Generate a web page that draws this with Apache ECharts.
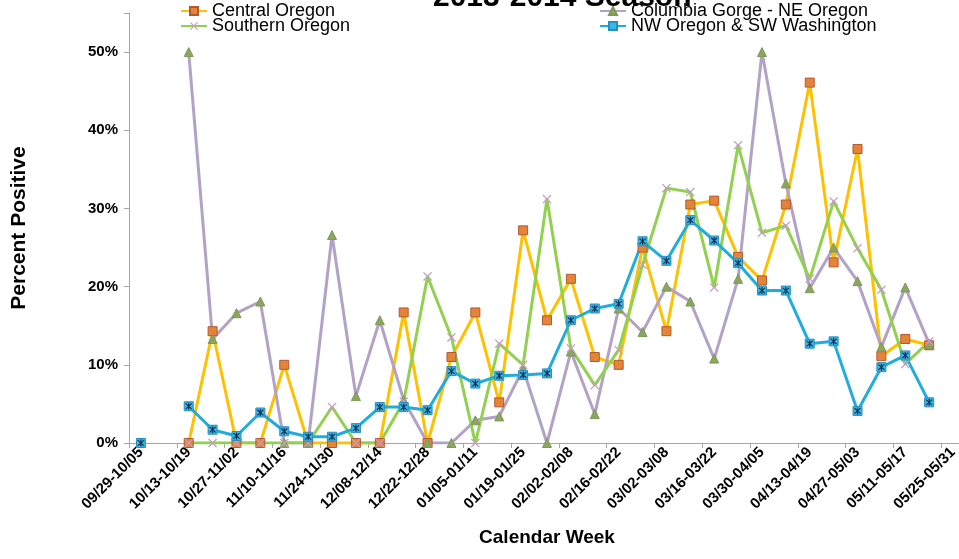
<!DOCTYPE html>
<html>
<head>
<meta charset="utf-8">
<script src="https://cdn.jsdelivr.net/npm/echarts@6/dist/echarts.min.js"></script>
<style>
  html, body { margin: 0; padding: 0; background: #fff; }
  #chart { width: 959px; height: 559px; }
</style>
</head>
<body>
<div id="chart"></div>
<script>
const weeks = [
  '09/29-10/05', '10/06-10/12', '10/13-10/19', '10/20-10/26', '10/27-11/02',
  '11/03-11/09', '11/10-11/16', '11/17-11/23', '11/24-11/30', '12/01-12/07',
  '12/08-12/14', '12/15-12/21', '12/22-12/28', '12/29-01/04', '01/05-01/11',
  '01/12-01/18', '01/19-01/25', '01/26-02/01', '02/02-02/08', '02/09-02/15',
  '02/16-02/22', '02/23-03/01', '03/02-03/08', '03/09-03/15', '03/16-03/22',
  '03/23-03/29', '03/30-04/05', '04/06-04/12', '04/13-04/19', '04/20-04/26',
  '04/27-05/03', '05/04-05/10', '05/11-05/17', '05/18-05/24', '05/25-05/31'
]

// percent positive per week
const centralOregon = [null, null, 0, 14.3, 0, 0, 10.0, 0, 0, 0, 0, 16.7, 0, 11.0, 16.7, 5.2, 27.2, 15.7, 21.0, 11.0,
  10.0, 25.0, 14.3, 30.5, 31.0, 23.8, 20.8, 30.5, 46.1, 23.1, 37.6, 11.1, 13.3, 12.5, null]
const columbiaGorge = [null, null, 50, 13.3, 16.6, 18.1, 0, 0, 26.6, 6.0, 15.7, 5.5, 0, 0, 2.9, 3.4, 9.5, 0, 11.7, 3.7,
  17.2, 14.2, 20.0, 18.1, 10.8, 21.0, 50, 33.2, 19.8, 25.0, 20.7, 12.3, 19.9, 12.7, null]
const southernOregon = [null, null, 0, 0, 0, 0, 0, 0, 4.6, 0, 0, 5.3, 21.3, 13.5, 0, 12.7, 10.0, 31.2, 12.1, 7.4,
  11.9, 22.8, 32.6, 32.1, 19.9, 38.1, 26.9, 27.8, 21.0, 30.9, 24.9, 19.6, 10.1, 13.0, null]
const nwOregon = [0, null, 4.7, 1.7, 0.9, 3.9, 1.5, 0.8, 0.8, 1.9, 4.6, 4.6, 4.2, 9.2, 7.6, 8.6, 8.7, 8.9, 15.7, 17.2,
  17.8, 25.8, 23.3, 28.5, 25.9, 23.0, 19.5, 19.5, 12.7, 13.0, 4.1, 9.7, 11.2, 5.2, null]

const font = '"Liberation Sans", Arial, sans-serif'
const xMark = 'path://M0,1 L1,0 L5,4 L9,0 L10,1 L6,5 L10,9 L9,10 L5,6 L1,10 L0,9 L4,5 Z'
const star = 'path://M4.2,0 L5.8,0 L5.8,10 L4.2,10 Z M0.5,1.6 L1.6,0.5 L9.5,8.4 L8.4,9.5 Z M8.4,0.5 L9.5,1.6 L1.6,9.5 L0.5,8.4 Z'

const chart = echarts.init(document.getElementById('chart'), null, { renderer: 'canvas' })

const legendText = { fontFamily: font, fontSize: 18, color: '#000', lineHeight: 16 }

chart.setOption({
  backgroundColor: '#fff',
  animation: false,
  title: {
    text: '2013-2014 Season',
    left: 428,
    top: -22,
    textStyle: { fontFamily: font, fontSize: 30, fontWeight: 'bold', color: '#000' }
  },
  legend: [{
    orient: 'vertical',
    left: 175,
    top: -3,
    itemGap: -3,
    itemWidth: 26,
    itemHeight: 10,
    textStyle: legendText,
    data: ['Central Oregon', 'Southern Oregon']
  }, {
    orient: 'vertical',
    left: 594,
    top: -3,
    itemGap: -3,
    itemWidth: 26,
    itemHeight: 10,
    textStyle: legendText,
    data: ['Columbia Gorge - NE Oregon', 'NW Oregon & SW Washington']
  }],
  grid: { left: 129, top: 13, width: 836, height: 430, outerBoundsMode: 'none' },
  xAxis: {
    type: 'category',
    data: weeks,
    boundaryGap: true,
    axisLine: { lineStyle: { color: '#A6A6A6' } },
    axisTick: { show: true, length: 5, lineStyle: { color: '#A6A6A6' } },
    axisLabel: {
      interval: 1,
      rotate: 45,
      margin: 7,
      fontFamily: font,
      fontSize: 15,
      fontWeight: 'bold',
      color: '#000'
    },
    name: 'Calendar Week',
    nameLocation: 'middle',
    nameGap: 85,
    nameTextStyle: { fontFamily: font, fontSize: 19, fontWeight: 'bold', color: '#000' },
    splitLine: { show: false }
  },
  yAxis: {
    type: 'value',
    min: 0,
    max: 55,
    interval: 10,
    axisLine: { show: true, lineStyle: { color: '#A6A6A6' } },
    axisTick: { show: true, length: 5, lineStyle: { color: '#A6A6A6' } },
    axisLabel: {
      margin: 11,
      fontFamily: font,
      fontSize: 15,
      fontWeight: 'bold',
      color: '#000',
      formatter: v => (v % 10 === 0 ? v + '%' : '')
    },
    splitLine: { show: false },
    name: 'Percent Positive',
    nameLocation: 'middle',
    nameGap: 99,
    nameTextStyle: { fontFamily: font, fontSize: 21, fontWeight: 'bold', color: '#000' }
  },
  series: [{
    name: 'Central Oregon',
    type: 'line',
    data: centralOregon,
    symbol: 'rect',
    symbolSize: 9,
    lineStyle: { width: 3, color: '#FFC000' },
    itemStyle: { color: '#E3843A', borderColor: '#B4592E', borderWidth: 1 }
  }, {
    name: 'Columbia Gorge - NE Oregon',
    type: 'line',
    data: columbiaGorge,
    symbol: 'triangle',
    symbolSize: 9,
    lineStyle: { width: 3, color: '#B3A2C7' },
    itemStyle: { color: '#8CA660', borderColor: '#7F9857', borderWidth: 1 }
  }, {
    name: 'Southern Oregon',
    type: 'line',
    data: southernOregon,
    symbol: xMark,
    symbolSize: 9,
    lineStyle: { width: 3, color: '#92D050' },
    itemStyle: { color: '#C49DC2', borderWidth: 0 }
  }, {
    name: 'NW Oregon & SW Washington',
    type: 'line',
    data: nwOregon,
    symbol: 'rect',
    symbolSize: 9,
    lineStyle: { width: 3, color: '#1FADDE' },
    itemStyle: { color: '#3DB5E6', borderColor: '#2590C0', borderWidth: 1 }
  }, {
    name: 'nw-star',
    type: 'scatter',
    data: nwOregon,
    symbol: star,
    symbolSize: 7,
    z: 3,
    silent: true,
    itemStyle: { color: '#0A1630' }
  }]
})
</script>
</body>
</html>
